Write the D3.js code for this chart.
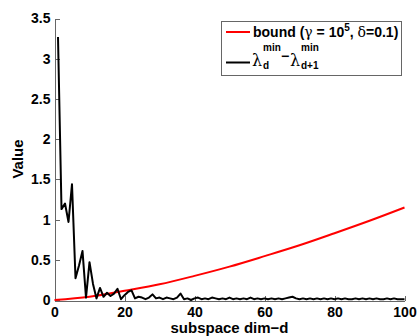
<!DOCTYPE html>
<meta charset="utf-8">
<style>
  body { margin: 0; background: #fff; }
  svg text { font-family: "Liberation Sans", Arial, sans-serif; font-weight: bold; fill: #000; }
  .axis path, .axis line { stroke: #666; shape-rendering: crispEdges; }
  .axis text { font-size: 14px; }
  .sym { font-family: "DejaVu Serif", serif; font-weight: normal; }
</style>
<body>
<div id="chart"></div>
<script src="https://d3js.org/d3.v7.min.js"></script>
<script>
var width = 420, height = 336;

// black series: lambda_d^min - lambda_{d+1}^min, d = 1..100
var gapD = d3.range(1, 101);
var gapValues = [
  3.27, 1.13, 1.20, 0.97, 1.44, 0.27, 0.43, 0.61, 0.03, 0.47,
  0.20, 0.02, 0.15, 0.04, 0.09, 0.05, 0.08, 0.14, 0.01, 0.06,
  0.10, 0.12, 0.02, 0.04, 0.03, 0.01, 0.03, 0.07, 0.02, 0.03,
  0.01, 0.03, 0.02, 0.01, 0.03, 0.08, 0.01, 0.02, 0.00, 0.02,
  0.03, 0.01, 0.02, 0.01, 0.03, 0.02, 0.01, 0.02, 0.01, 0.03,
  0.01, 0.02, 0.01, 0.02, 0.01, 0.03, 0.01, 0.02, 0.01, 0.02,
  0.01, 0.02, 0.01, 0.02, 0.01, 0.02, 0.03, 0.04, 0.02, 0.01,
  0.02, 0.01, 0.02, 0.01, 0.02, 0.01, 0.02, 0.01, 0.02, 0.01,
  0.02, 0.01, 0.02, 0.01, 0.01, 0.02, 0.01, 0.02, 0.01, 0.02,
  0.01, 0.02, 0.01, 0.01, 0.02, 0.01, 0.02, 0.01, 0.01, 0.01
];

// red series: bound
var boundD = [0, 10, 20, 30, 40, 50, 60, 70, 80, 90, 100];
var boundValues = [0, 0.04, 0.115, 0.195, 0.30, 0.415, 0.545, 0.68, 0.83, 0.985, 1.15];

var xTicks = [0, 20, 40, 60, 80, 100];
var yTicks = [0, 0.5, 1, 1.5, 2, 2.5, 3, 3.5];

var x = d3.scaleLinear().domain([0, 100]).range([54.5, 404.5]);
var y = d3.scaleLinear().domain([0, 3.5]).range([300, 18.5]);

var svg = d3.select('#chart').append('svg')
    .attr('width', width)
    .attr('height', height);

svg.append('g')
    .attr('class', 'axis')
    .attr('transform', 'translate(0,300.5)')
    .call(d3.axisBottom(x).tickValues(xTicks).tickSizeInner(-5).tickSizeOuter(0).tickPadding(7))
    .call(function (g) { g.selectAll('text').attr('fill', '#000'); });

svg.append('g')
    .attr('class', 'axis')
    .attr('transform', 'translate(54.5,0)')
    .call(d3.axisLeft(y).tickValues(yTicks).tickSizeInner(-5).tickSizeOuter(0).tickPadding(4)
      .tickFormat(function (d) { return String(d); }))
    .call(function (g) { g.selectAll('text').attr('fill', '#000'); });

var line = d3.line()
    .x(function (d) { return x(d[0]); })
    .y(function (d) { return y(d[1]); });

svg.append('path')
    .datum(d3.zip(boundD, boundValues))
    .attr('d', line.curve(d3.curveMonotoneX))
    .attr('fill', 'none')
    .attr('stroke', '#ff0000')
    .attr('stroke-width', 2);

svg.append('path')
    .datum(d3.zip(gapD, gapValues))
    .attr('d', line.curve(d3.curveLinear))
    .attr('fill', 'none')
    .attr('stroke', '#000')
    .attr('stroke-width', 2)
    .attr('stroke-linejoin', 'round');

// axis titles
svg.append('text')
    .attr('x', (x(0) + x(100)) / 2)
    .attr('y', 333)
    .attr('text-anchor', 'middle')
    .style('font-size', '15px')
    .text('subspace dim\u2212d');

svg.append('text')
    .attr('transform', 'translate(23,159) rotate(-90)')
    .attr('text-anchor', 'middle')
    .style('font-size', '15px')
    .text('Value');

// legend
var leg = svg.append('g');
leg.append('rect')
    .attr('x', 221.5).attr('y', 21.5)
    .attr('width', 180).attr('height', 54)
    .attr('fill', '#fff')
    .attr('stroke', '#666');

leg.append('line')
    .attr('x1', 226).attr('x2', 250).attr('y1', 32).attr('y2', 32)
    .attr('stroke', '#ff0000').attr('stroke-width', 2);
leg.append('line')
    .attr('x1', 226).attr('x2', 250).attr('y1', 62.5).attr('y2', 62.5)
    .attr('stroke', '#000').attr('stroke-width', 2);

var t1 = leg.append('text').attr('x', 253).attr('y', 37).style('font-size', '14px');
t1.append('tspan').text('bound (');
t1.append('tspan').attr('class', 'sym').text('\u03b3');
t1.append('tspan').text(' = 10');
t1.append('tspan').attr('dy', -6).style('font-size', '10px').text('5');
t1.append('tspan').attr('dy', 6).text(', ');
t1.append('tspan').attr('class', 'sym').text('\u03b4');
t1.append('tspan').text('=0.1)');

var t2 = leg.append('g').style('font-size', '10px');
t2.append('text').attr('class', 'sym').attr('x', 252).attr('y', 66).style('font-size', '16px').text('\u03bb');
t2.append('text').attr('x', 263).attr('y', 51).text('min');
t2.append('text').attr('x', 263).attr('y', 69).text('d');
t2.append('text').attr('x', 281).attr('y', 61).style('font-size', '14px').text('\u2212');
t2.append('text').attr('class', 'sym').attr('x', 290).attr('y', 66).style('font-size', '16px').text('\u03bb');
t2.append('text').attr('x', 301).attr('y', 51).text('min');
t2.append('text').attr('x', 301).attr('y', 69).text('d+1');
</script>
</body>
